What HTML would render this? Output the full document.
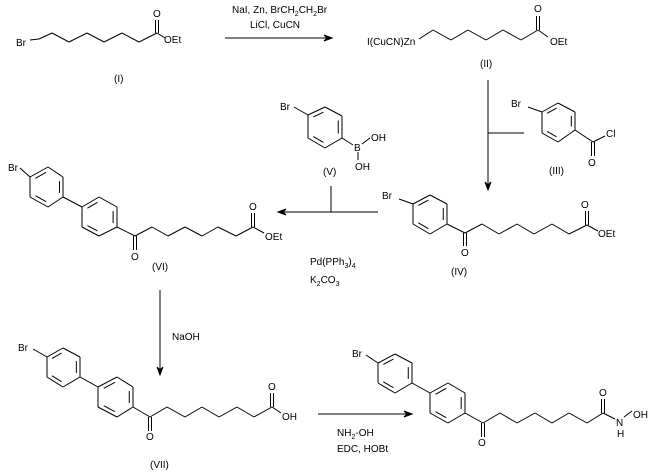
<!DOCTYPE html>
<html><head><meta charset="utf-8"><style>
body{margin:0;background:#fff}
svg{display:block}
text{font-family:"Liberation Sans",Arial,sans-serif;font-size:10px;fill:#000}
</style></head><body>
<svg id="s" width="654" height="473" viewBox="0 0 654 473" xmlns="http://www.w3.org/2000/svg">
<g id="g" stroke="#000" stroke-width="1" fill="none"></g>
<g>
<!-- I -->
<text x="16" y="46">Br</text>
<text x="153" y="17">O</text>
<text x="164" y="43">OEt</text>
<text x="114" y="82">(I)</text>
<!-- reagents 1 -->
<text x="232" y="13">NaI, Zn,  BrCH<tspan font-size="7" dy="3">2</tspan><tspan dy="-3">CH</tspan><tspan font-size="7" dy="3">2</tspan><tspan dy="-3">Br</tspan></text>
<text x="250" y="28">LiCl, CuCN</text>
<!-- II -->
<text x="367" y="45">I(CuCN)Zn</text>
<text x="534" y="12">O</text>
<text x="550" y="45">OEt</text>
<text x="480" y="67">(II)</text>
<!-- III -->
<text x="511" y="107">Br</text>
<text x="606" y="137">Cl</text>
<text x="588" y="166">O</text>
<text x="549" y="174">(III)</text>
<!-- IV -->
<text x="382" y="199">Br</text>
<text x="461" y="256">O</text>
<text x="581" y="208">O</text>
<text x="598" y="237">OEt</text>
<text x="451" y="275">(IV)</text>
<!-- V -->
<text x="280" y="110">Br</text>
<text x="354" y="151">B</text>
<text x="371" y="141">OH</text>
<text x="355" y="170">OH</text>
<text x="323" y="175">(V)</text>
<!-- Suzuki reagents -->
<text x="310" y="265">Pd(PPh<tspan font-size="7" dy="3">3</tspan><tspan dy="-3">)</tspan><tspan font-size="7" dy="3">4</tspan></text>
<text x="310" y="283">K<tspan font-size="7" dy="3">2</tspan><tspan dy="-3">CO</tspan><tspan font-size="7" dy="3">3</tspan></text>
<!-- VI -->
<text x="8" y="171">Br</text>
<text x="131" y="260">O</text>
<text x="249" y="210">O</text>
<text x="265" y="240">OEt</text>
<text x="152" y="270">(VI)</text>
<!-- NaOH -->
<text x="172" y="340">NaOH</text>
<!-- VII -->
<text x="18" y="351">Br</text>
<text x="146" y="440">O</text>
<text x="268" y="390">O</text>
<text x="282" y="420">OH</text>
<text x="150" y="468">(VII)</text>
<!-- final reagents -->
<text x="337" y="436">NH<tspan font-size="7" dy="3">2</tspan><tspan dy="-3">-OH</tspan></text>
<text x="337" y="452">EDC, HOBt</text>
<!-- final -->
<text x="352" y="357">Br</text>
<text x="478" y="446">O</text>
<text x="599" y="396">O</text>
<text x="616" y="426">N</text>
<text x="617" y="437">H</text>
<text x="633" y="418">OH</text>
</g>
</svg>
<script>
var g=document.getElementById('g'),NS='http://www.w3.org/2000/svg';
function L(a,b,c,d){var e=document.createElementNS(NS,'line');e.setAttribute('x1',a);e.setAttribute('y1',b);e.setAttribute('x2',c);e.setAttribute('y2',d);g.appendChild(e);}
function P(pts){for(var i=0;i<pts.length-1;i++)L(pts[i][0],pts[i][1],pts[i+1][0],pts[i+1][1]);}
function ring(p){var cx=0,cy=0;p.forEach(function(q){cx+=q[0];cy+=q[1];});cx/=6;cy/=6;
for(var i=0;i<6;i++){var a=p[i],b=p[(i+1)%6];L(a[0],a[1],b[0],b[1]);
if(i%2==0){var f=0.78,ax=cx+(a[0]-cx)*f,ay=cy+(a[1]-cy)*f,bx=cx+(b[0]-cx)*f,by=cy+(b[1]-cy)*f;
var t=0.12;L(ax+(bx-ax)*t,ay+(by-ay)*t,bx-(bx-ax)*t,by-(by-ay)*t);}}}
function dbl(a,b,c,d){L(a-1.5,b,c-1.5,d);L(a+1.5,b,c+1.5,d);}
function arrow(x1,y1,x2,y2){L(x1,y1,x2,y2);var dx=x2-x1,dy=y2-y1,l=Math.hypot(dx,dy);dx/=l;dy/=l;
var p=document.createElementNS(NS,'polygon');var bx=x2-dx*8,by=y2-dy*8;
p.setAttribute('points',x2+','+y2+' '+(bx-dy*3)+','+(by+dx*3)+' '+(x2-dx*5)+','+(y2-dy*5)+' '+(bx+dy*3)+','+(by-dx*3));p.setAttribute('fill','#000');g.appendChild(p);}
// I
P([[30,40],[39,39],[52,33],[69,42],[87,33],[104,42],[122,33],[139,42],[157,33],[165,38]]);dbl(157,33,157,20);
arrow(225,38,332,38);
// II
P([[419,39],[433,30],[451,40],[468,30],[486,40],[503,30],[521,40],[538,30],[548,37]]);dbl(538,30,538,16);
// arrow down + tick
arrow(488,80,488,190);L(488,133,524,133);
// III
ring([[542,112],[558,103],[575,112],[575,130],[558,142],[542,133]]);L(528,107,542,112);
L(575,130,593,142);L(593,142,605,136);dbl(593,142,593,156);
// IV
ring([[413,204],[430,195],[447,204],[447,224],[430,234],[413,224]]);L(399,199,413,204);
P([[447,224],[465,233],[482,224],[499,234],[517,224],[534,234],[552,224],[569,234],[587,225],[598,231]]);
dbl(465,233,465,246);dbl(587,225,587,211);
// Suzuki arrow
arrow(378,212,278,212);L(331,186,331,212);
// V
ring([[308,115],[325,107],[342,116],[342,138],[325,148],[308,138]]);L(294,107,308,115);L(342,138,353,145);L(362,144,370,138);L(358,152,358,160);
// VI
ring([[30,177],[48,167],[63,177],[63,197],[48,207],[30,197]]);L(20,168,30,177);L(63,197,82,207);
ring([[82,207],[99,197],[117,207],[117,227],[99,236],[82,227]]);
P([[117,227],[135,236],[152,227],[168,236],[185,227],[202,236],[218,227],[236,236],[253,227],[264,233]]);
dbl(135,236,135,250);dbl(253,227,253,213);
// NaOH arrow
arrow(160,290,160,375);
// VII
ring([[47,357],[63,348],[80,357],[80,377],[63,387],[47,377]]);L(33,349,47,357);L(80,377,98,387);
ring([[98,387],[117,377],[133,387],[133,407],[117,417],[98,407]]);
P([[133,407],[150,417],[167,407],[185,417],[202,407],[219,417],[237,407],[254,417],[272,407],[281,413]]);
dbl(150,417,150,431);dbl(272,407,272,393);
arrow(318,414,412,414);
// final
ring([[378,363],[395,354],[412,363],[412,383],[395,393],[378,383]]);L(366,355,378,363);L(412,383,430,393);
ring([[430,393],[448,383],[465,393],[465,413],[448,423],[430,413]]);
P([[465,413],[483,423],[500,413],[517,423],[535,413],[552,423],[569,413],[587,423],[603,413],[615,419]]);
dbl(483,423,483,437);dbl(603,413,603,399);L(624,417,632,411);
</script>
</body></html>
